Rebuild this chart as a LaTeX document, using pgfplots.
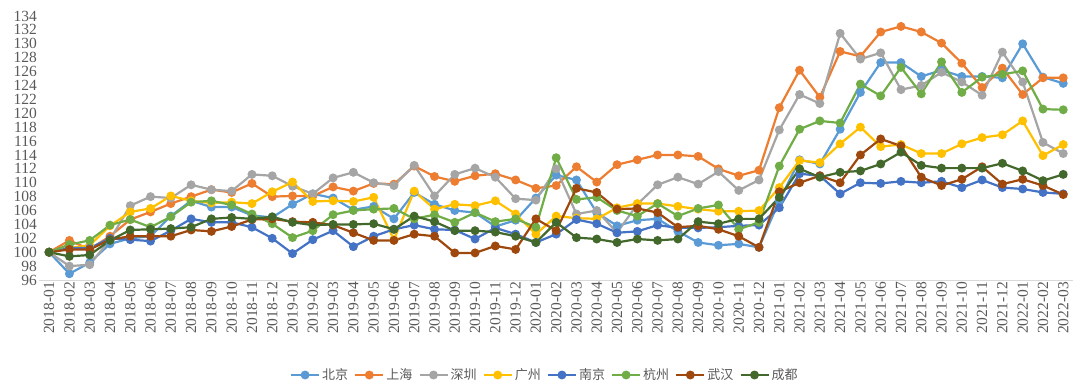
\documentclass[border=0pt]{standalone}
\usepackage{pgfplots}
\pgfplotsset{compat=1.18}
\usepackage{pgfplotstable}
\usepackage{fontspec}
\setmainfont{Liberation Serif}
\newfontfamily\cjk{Noto Sans CJK SC}
\definecolor{cBJ}{HTML}{5B9BD5}
\definecolor{cSH}{HTML}{ED7D31}
\definecolor{cSZ}{HTML}{A5A5A5}
\definecolor{cGZ}{HTML}{FFC000}
\definecolor{cNJ}{HTML}{4472C4}
\definecolor{cHZ}{HTML}{70AD47}
\definecolor{cWH}{HTML}{9E480E}
\definecolor{cCD}{HTML}{43682B}
\definecolor{labelgray}{HTML}{595959}
\definecolor{axisgray}{HTML}{D9D9D9}

\pgfplotstableread{
x bj sh sz gz nj hz wh cd
0 100.0 100.0 100.0 100.0 100.0 100.0 100.0 100.0
1 96.9 101.7 98.0 100.6 100.6 101.1 100.4 99.4
2 98.5 100.4 98.2 101.0 100.6 101.7 100.4 99.6
3 101.2 102.3 101.8 103.8 102.0 103.9 101.8 101.7
4 102.0 104.7 106.7 105.8 101.8 104.7 102.3 103.2
5 102.3 105.8 108.0 106.3 101.6 103.6 102.3 103.3
6 105.2 107.0 107.8 108.1 103.1 105.1 102.3 103.4
7 107.4 108.0 109.7 107.4 104.8 107.2 103.2 103.6
8 106.5 109.0 109.0 107.1 104.3 107.4 103.0 104.8
9 106.5 108.6 108.8 107.2 104.3 106.8 103.7 105.0
10 105.3 109.9 111.2 107.0 103.6 105.5 104.7 104.8
11 105.0 108.0 111.0 108.7 102.0 104.1 104.8 105.1
12 106.9 108.1 109.5 110.1 99.8 102.1 104.4 104.3
13 108.4 108.1 108.4 107.3 101.8 103.1 104.3 103.9
14 107.8 109.4 110.7 107.4 103.1 105.4 103.9 104.0
15 106.1 108.8 111.5 107.3 100.8 106.0 102.8 104.0
16 106.6 109.9 110.0 107.9 102.3 106.2 101.7 104.1
17 104.8 109.8 109.6 101.8 103.3 106.3 101.7 103.3
18 108.6 112.4 112.5 108.8 103.9 104.8 102.6 105.2
19 106.9 110.9 108.1 106.2 103.3 105.4 102.3 104.4
20 106.0 110.2 111.2 106.9 103.2 104.3 99.9 103.1
21 105.7 111.0 112.1 106.7 101.9 105.7 99.9 103.1
22 103.7 111.3 110.8 107.4 103.5 104.4 100.9 102.9
23 104.6 110.4 107.7 105.5 102.6 104.8 100.4 102.3
24 107.8 109.2 107.5 102.6 101.4 103.6 104.8 101.4
25 111.1 109.6 112.0 105.2 102.6 113.6 103.1 104.3
26 110.4 112.3 105.5 104.9 104.7 107.6 109.2 102.1
27 105.7 110.1 106.0 104.8 104.1 107.9 108.6 101.9
28 103.8 112.6 102.8 106.4 102.8 106.0 106.2 101.4
29 104.6 113.3 106.9 107.0 103.0 105.2 106.3 101.9
30 104.8 114.0 109.7 107.0 103.9 107.0 105.7 101.7
31 103.0 114.0 110.8 106.6 103.5 105.2 103.6 101.9
32 101.4 113.8 109.8 106.2 103.5 106.3 103.8 104.4
33 101.0 112.0 111.6 105.9 103.6 106.8 103.3 104.1
34 101.2 111.0 108.9 105.9 103.8 103.3 102.3 104.8
35 100.7 111.8 110.4 106.0 103.9 104.3 100.7 104.8
36 107.4 120.8 117.6 109.3 106.4 112.4 108.7 107.9
37 113.3 126.2 122.7 113.2 111.3 117.7 110.0 112.0
38 112.7 122.3 121.4 112.9 111.0 118.9 111.0 110.8
39 117.7 128.9 131.5 115.6 108.4 118.6 110.0 111.5
40 123.0 128.2 127.8 118.0 110.0 124.2 114.0 111.7
41 127.3 131.7 128.7 115.2 109.9 122.5 116.3 112.7
42 127.3 132.5 123.4 115.5 110.2 126.6 115.3 114.4
43 125.3 131.7 124.0 114.2 110.0 122.8 110.8 112.5
44 126.2 130.1 125.9 114.2 110.2 127.4 109.6 112.1
45 125.3 127.2 124.5 115.6 109.3 123.0 110.5 112.1
46 125.3 123.7 122.6 116.5 110.4 125.2 112.3 112.1
47 125.1 126.5 128.8 116.9 109.3 125.6 109.8 112.8
48 130.0 122.7 124.5 118.9 109.1 126.1 110.5 111.7
49 125.2 125.1 115.8 113.9 108.6 120.6 109.6 110.3
50 124.3 125.1 114.2 115.5 108.4 120.5 108.3 111.2
}\datatable

\pgfplotsset{
  cityline/.style={color=#1, line width=2.2pt, mark=*, mark size=3.3pt, mark options={solid, fill=#1, draw=#1}},
}

\begin{document}
\begin{tikzpicture}
\useasboundingbox (0,0) rectangle (1080pt,389pt);
\begin{axis}[
  at={(39pt,109pt)}, anchor=south west,
  scale only axis, width=1034.4pt, height=264pt,
  xmin=-0.5, xmax=50.5, ymin=96, ymax=134,
  ytick={96,98,...,134},
  xtick={0,...,50},
  xticklabels={2018-01,2018-02,2018-03,2018-04,2018-05,2018-06,2018-07,2018-08,2018-09,2018-10,2018-11,2018-12,
    2019-01,2019-02,2019-03,2019-04,2019-05,2019-06,2019-07,2019-08,2019-09,2019-10,2019-11,2019-12,
    2020-01,2020-02,2020-03,2020-04,2020-05,2020-06,2020-07,2020-08,2020-09,2020-10,2020-11,2020-12,
    2021-01,2021-02,2021-03,2021-04,2021-05,2021-06,2021-07,2021-08,2021-09,2021-10,2021-11,2021-12,
    2022-01,2022-02,2022-03},
  /pgf/number format/assume math mode=true,
  axis x line*=bottom, axis y line*=left,
  x axis line style={draw=axisgray, line width=1pt, -},
  y axis line style={draw=none},
  major tick length=0pt,
  tick style={draw=none},
  xticklabel style={rotate=90, anchor=east, font=\fontsize{15.5}{15.5}\selectfont, text=labelgray, inner sep=2pt},
  yticklabel style={font=\fontsize{15.5}{15.5}\selectfont, text=labelgray, inner sep=2pt},
  legend columns=-1,
  legend style={at={(axis description cs:0.489,0)}, anchor=center, yshift=-95pt,
    draw=none, fill=none, font=\cjk\fontsize{13}{13}\selectfont, text=labelgray,
    /tikz/every even column/.append style={column sep=4pt}},
  legend image code/.code={\draw[mark repeat=2, mark phase=2, #1] plot coordinates {(0pt,0pt) (14pt,0pt) (28pt,0pt)};},
]
\addplot[cityline=cBJ] table[x=x, y=bj]{\datatable};
\addlegendentry{北京}
\addplot[cityline=cSH] table[x=x, y=sh]{\datatable};
\addlegendentry{上海}
\addplot[cityline=cSZ] table[x=x, y=sz]{\datatable};
\addlegendentry{深圳}
\addplot[cityline=cGZ] table[x=x, y=gz]{\datatable};
\addlegendentry{广州}
\addplot[cityline=cNJ] table[x=x, y=nj]{\datatable};
\addlegendentry{南京}
\addplot[cityline=cHZ] table[x=x, y=hz]{\datatable};
\addlegendentry{杭州}
\addplot[cityline=cWH] table[x=x, y=wh]{\datatable};
\addlegendentry{武汉}
\addplot[cityline=cCD] table[x=x, y=cd]{\datatable};
\addlegendentry{成都}
\end{axis}
\end{tikzpicture}
\end{document}
